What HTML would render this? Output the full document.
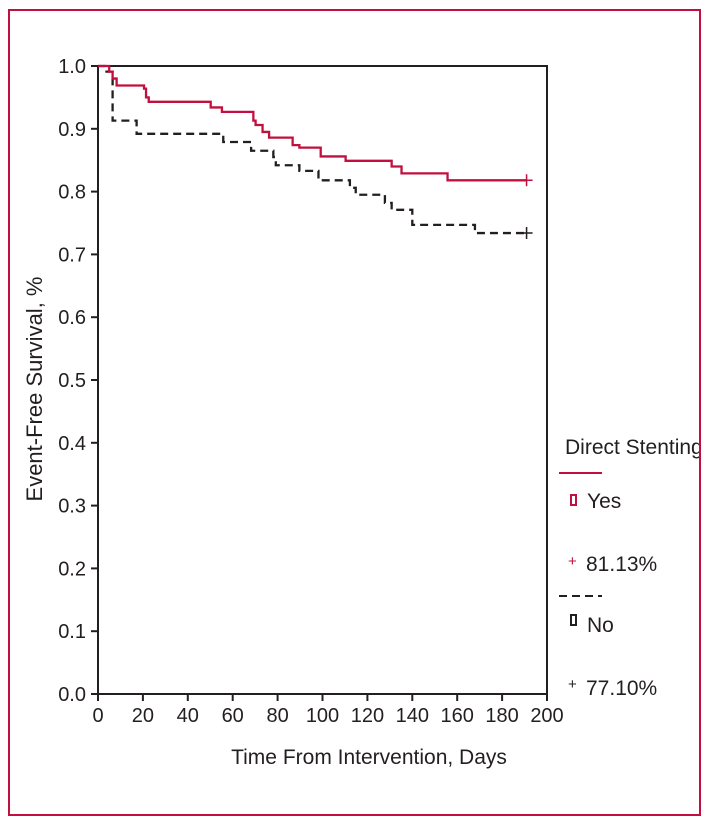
<!DOCTYPE html>
<html><head><meta charset="utf-8"><style>
body{margin:0;background:#fff;}
svg text{font-family:"Liberation Sans",sans-serif;fill:#231f20;}
</style></head><body>
<svg width="710" height="825" viewBox="0 0 710 825">
<rect x="9" y="10" width="691" height="805" fill="none" stroke="#c1103f" stroke-width="2"/>
<g id="axes"></g>
<g id="marks"></g>
<text x="0" y="0" font-size="22" text-anchor="middle" transform="translate(42,389) rotate(-90)">Event-Free Survival, %</text>
<text x="369" y="764" font-size="21" text-anchor="middle">Time From Intervention, Days</text>
<g>
<text x="565" y="454" font-size="21">Direct Stenting</text>
<rect x="701" y="0" width="9" height="825" fill="#fff"/>
<line x1="700" y1="10" x2="700" y2="815" stroke="#c1103f" stroke-width="2"/>
<line x1="559" y1="473" x2="602" y2="473" stroke="#c1103f" stroke-width="2"/>
<rect x="571" y="495" width="5" height="10" fill="none" stroke="#c1103f" stroke-width="2"/>
<text x="587" y="508" font-size="21">Yes</text>
<text x="568" y="566" font-size="15" style="fill:#c1103f">+</text>
<text x="586" y="571" font-size="21">81.13%</text>
<line x1="559" y1="596" x2="602" y2="596" stroke="#231f20" stroke-width="2" stroke-dasharray="8,5"/>
<rect x="571" y="615" width="5" height="10" fill="none" stroke="#231f20" stroke-width="2"/>
<text x="587" y="632" font-size="21">No</text>
<text x="568" y="689" font-size="15">+</text>
<text x="586" y="695" font-size="21">77.10%</text>
</g>
</svg>
<script>
const xTicks=[0,20,40,60,80,100,120,140,160,180,200];
const yTicks=[0.0,0.1,0.2,0.3,0.4,0.5,0.6,0.7,0.8,0.9,1.0];
const yesDays=[0,5,6.5,8.3,20.5,21.4,22.6,50.2,55.2,69.2,70.2,73.3,76.2,86.7,89.7,99.2,110.3,130.8,135.2,155.7];
const yesSurv=[1.0,0.991,0.980,0.969,0.964,0.950,0.943,0.934,0.927,0.913,0.906,0.895,0.886,0.874,0.870,0.856,0.849,0.840,0.829,0.818];
const noDays=[0,3.1,6.5,17.2,55.8,68.2,78.1,79.2,89.7,98.2,112.2,114.8,127.8,130.8,140,167.9];
const noSurv=[1.0,0.991,0.913,0.892,0.879,0.865,0.855,0.842,0.833,0.818,0.806,0.795,0.782,0.771,0.747,0.734];
const endDay=190.9;
const X0=98,X1=547,Y0=694,Y1=66;
const sx=d=>X0+(X1-X0)*d/200, sy=v=>Y0-(Y0-Y1)*v;
const NS='http://www.w3.org/2000/svg';
const axes=document.getElementById('axes'),marks=document.getElementById('marks');
function mk(t,a,p){const e=document.createElementNS(NS,t);for(const k in a)e.setAttribute(k,a[k]);p.appendChild(e);return e;}
const frame=mk('rect',{x:X0,y:Y1,width:X1-X0,height:Y0-Y1,fill:'none',stroke:'#231f20','stroke-width':2},axes);


xTicks.forEach(t=>{
 const l=mk('line',{x1:sx(t),x2:sx(t),y1:Y0,y2:Y0+7,stroke:'#231f20','stroke-width':2},axes);
 
 
 const tx=mk('text',{x:sx(t),y:Y0+28,'font-size':20,'text-anchor':'middle'},axes);tx.textContent=t;
 
 
});
yTicks.forEach(t=>{
 const l=mk('line',{x1:X0-7,x2:X0,y1:sy(t),y2:sy(t),stroke:'#231f20','stroke-width':2},axes);
 
 
 const tx=mk('text',{x:X0-12,y:sy(t)+7,'font-size':20,'text-anchor':'end'},axes);tx.textContent=t.toFixed(1);
 
 
});
function stepPath(ds,vs){let d='M'+sx(ds[0])+','+sy(vs[0]);for(let i=1;i<ds.length;i++){d+=' H'+sx(ds[i])+' V'+sy(vs[i]);}d+=' H'+sx(endDay);return d;}
const pn=mk('path',{d:stepPath(noDays,noSurv),fill:'none',stroke:'#231f20','stroke-width':2.3,'stroke-dasharray':'8,5'},marks);


const py=mk('path',{d:stepPath(yesDays,yesSurv),fill:'none',stroke:'#c1103f','stroke-width':2.3},marks);


[[yesSurv,'#c1103f','yes-censor-mark'],[noSurv,'#231f20','no-censor-mark']].forEach(([s,c,n])=>{
 const x=sx(endDay),y=sy(s[s.length-1]);
 const p=mk('path',{d:`M${x-6},${y} H${x+6} M${x},${y-6} V${y+6}`,stroke:c,'stroke-width':1.5},marks);
 
 
});
</script>
</body></html>
